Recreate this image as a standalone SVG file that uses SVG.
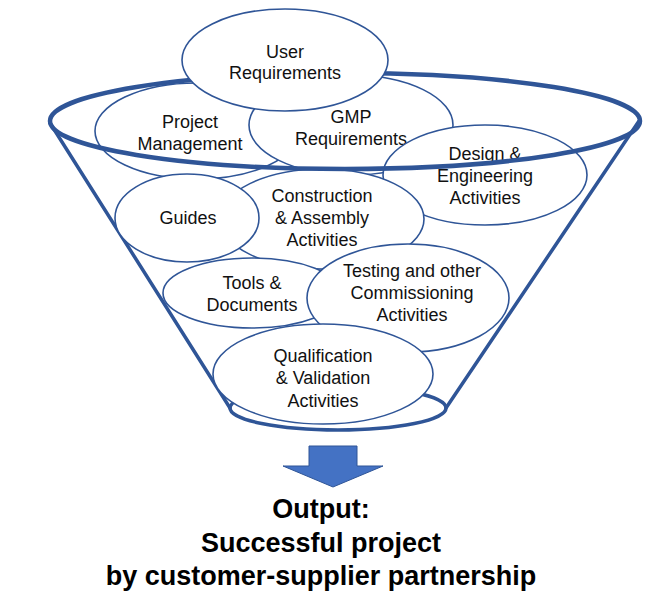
<svg xmlns="http://www.w3.org/2000/svg" width="650" height="598" viewBox="0 0 650 598">
<style>
.n{fill:#fff;stroke:#2F5597;stroke-width:1.6}
.t{font-family:"Liberation Sans",Arial,sans-serif;font-size:18px;fill:#111;text-anchor:middle}
.o{font-family:"Liberation Sans",Arial,sans-serif;font-size:27px;font-weight:bold;fill:#000;text-anchor:middle}
.f{fill:none;stroke:#2F5597;stroke-linejoin:round;stroke-linecap:round}
</style>
<rect width="650" height="598" fill="#fff"/>
<g id="funnel-body">
<path class="f" stroke-width="3.5" d="M50,123 L230,408"/>
<path class="f" stroke-width="3.5" d="M639,121 L446,408"/>
<ellipse class="f" stroke-width="3.5" cx="338" cy="408" rx="108" ry="22"/>
</g>
<g id="project-management"><ellipse class="n" cx="197" cy="131" rx="102" ry="48"/><text class="t" x="190" y="128">Project</text><text class="t" x="190" y="150">Management</text></g>
<g id="gmp-requirements"><ellipse class="n" cx="351" cy="125" rx="102" ry="50"/><text class="t" x="351" y="123">GMP</text><text class="t" x="351" y="145">Requirements</text></g>
<g id="design-engineering"><ellipse class="n" cx="485" cy="175" rx="102" ry="50"/><text class="t" x="485" y="160">Design &amp;</text><text class="t" x="485" y="182">Engineering</text><text class="t" x="485" y="204">Activities</text></g>
<g id="construction-assembly"><ellipse class="n" cx="322" cy="219" rx="102" ry="50"/><text class="t" x="322" y="202">Construction</text><text class="t" x="322" y="224">&amp; Assembly</text><text class="t" x="322" y="246">Activities</text></g>
<g id="guides"><ellipse class="n" cx="187" cy="218" rx="72" ry="44"/><text class="t" x="188" y="224">Guides</text></g>
<g id="tools-documents"><ellipse class="n" cx="252" cy="293" rx="89" ry="35"/><text class="t" x="252" y="289">Tools &amp;</text><text class="t" x="252" y="311">Documents</text></g>
<g id="testing-commissioning"><ellipse class="n" cx="408" cy="298" rx="101" ry="54"/><text class="t" x="412" y="277">Testing and other</text><text class="t" x="412" y="299">Commissioning</text><text class="t" x="412" y="321">Activities</text></g>
<g id="qualification-validation"><ellipse class="n" cx="323" cy="374" rx="110" ry="50"/><text class="t" x="323" y="362">Qualification</text><text class="t" x="323" y="384">&amp; Validation</text><text class="t" x="323" y="407">Activities</text></g>
<g id="funnel-rim"><ellipse class="f" stroke-width="4.5" cx="345" cy="121" rx="295" ry="48"/></g>
<g id="user-requirements"><ellipse class="n" cx="285" cy="60" rx="103" ry="51"/><text class="t" x="285" y="58">User</text><text class="t" x="285" y="79">Requirements</text></g>
<g id="connectors">
<path d="M309,446 H357 V466 H383 L333,487 L283,466 H309 Z" fill="#4472C4" stroke="#2F5597" stroke-width="1"/>
</g>
<g id="output">
<text class="o" x="321" y="518">Output:</text>
<text class="o" x="321" y="552">Successful project</text>
<text class="o" x="321" y="585">by customer-supplier partnership</text>
</g>
</svg>
